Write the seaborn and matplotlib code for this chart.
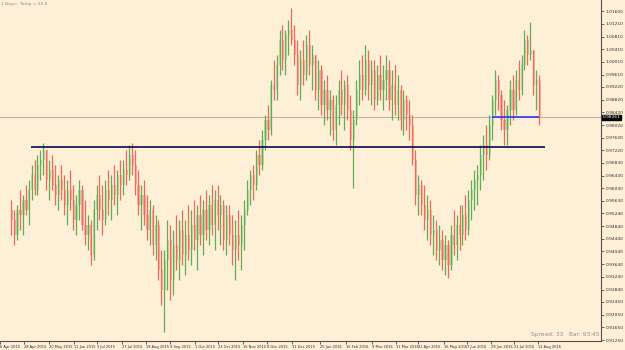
import numpy as np
import pandas as pd
import matplotlib
matplotlib.use("Agg")
import matplotlib.pyplot as plt
import matplotlib.transforms as mtransforms
import seaborn as sns

# ---------------- data (daily candles, prices) ----------------
first_open = 0.9535
closes = [
    0.9503, 0.9456, 0.9535, 0.9519, 0.9566, 0.9535, 0.9598, 0.9645, 0.9598, 0.9676,
    0.9692, 0.9724, 0.9629, 0.9661, 0.9613, 0.9582, 0.9629, 0.9598, 0.9550, 0.9598,
    0.9566, 0.9503, 0.9550, 0.9598, 0.9487, 0.9456, 0.9487, 0.9393, 0.9535, 0.9582,
    0.9535, 0.9503, 0.9598, 0.9566, 0.9613, 0.9582, 0.9645, 0.9613, 0.9661, 0.9645,
    0.9708, 0.9676, 0.9613, 0.9550, 0.9582, 0.9519, 0.9472, 0.9535, 0.9424, 0.9487,
    0.9346, 0.9283, 0.9377, 0.9440, 0.9314, 0.9424, 0.9377, 0.9472, 0.9393, 0.9456,
    0.9409, 0.9487, 0.9440, 0.9519, 0.9456, 0.9535, 0.9472, 0.9550, 0.9487, 0.9566,
    0.9519, 0.9550, 0.9440, 0.9519, 0.9456, 0.9409, 0.9456, 0.9424, 0.9487, 0.9535,
    0.9598, 0.9645, 0.9613, 0.9708, 0.9676, 0.9755, 0.9818, 0.9787, 0.9928, 0.9913,
    0.9991, 1.0070, 1.0007, 1.0086, 1.0102, 1.0070, 1.0023, 0.9928, 1.0007, 0.9960,
    1.0054, 0.9991, 1.0023, 0.9913, 0.9976, 0.9865, 0.9913, 0.9850, 0.9881, 0.9787,
    0.9865, 0.9913, 0.9865, 0.9928, 0.9850, 0.9755, 0.9818, 0.9913, 0.9960, 0.9913,
    1.0007, 0.9928, 0.9976, 0.9881, 0.9960, 0.9913, 0.9944, 0.9976, 0.9881, 0.9928,
    0.9865, 0.9913, 0.9818, 0.9881, 0.9834, 0.9802, 0.9692, 0.9582, 0.9613, 0.9550,
    0.9503, 0.9535, 0.9456, 0.9472, 0.9409, 0.9440, 0.9377, 0.9424, 0.9361, 0.9456,
    0.9424, 0.9487, 0.9456, 0.9519, 0.9472, 0.9566, 0.9598, 0.9629, 0.9645, 0.9708,
    0.9739, 0.9708, 0.9802, 0.9881, 0.9944, 0.9897, 0.9818, 0.9787, 0.9850, 0.9913,
    0.9850, 0.9944, 0.9913, 0.9991, 1.0070, 1.0023, 1.0039, 0.9928, 0.9944, 0.9827,
]
highs = [
    0.9566, 0.9535, 0.9550, 0.9598, 0.9582, 0.9613, 0.9629, 0.9676, 0.9692, 0.9708,
    0.9724, 0.9746, 0.9724, 0.9692, 0.9708, 0.9676, 0.9645, 0.9676, 0.9645, 0.9629,
    0.9661, 0.9613, 0.9582, 0.9629, 0.9613, 0.9566, 0.9519, 0.9503, 0.9566, 0.9613,
    0.9645, 0.9613, 0.9629, 0.9661, 0.9645, 0.9676, 0.9661, 0.9692, 0.9692, 0.9724,
    0.9739, 0.9746, 0.9724, 0.9661, 0.9613, 0.9629, 0.9582, 0.9566, 0.9550, 0.9519,
    0.9503, 0.9409, 0.9409, 0.9503, 0.9487, 0.9472, 0.9519, 0.9503, 0.9535, 0.9503,
    0.9550, 0.9535, 0.9566, 0.9550, 0.9582, 0.9566, 0.9598, 0.9582, 0.9613, 0.9598,
    0.9613, 0.9582, 0.9566, 0.9550, 0.9550, 0.9519, 0.9503, 0.9535, 0.9519, 0.9566,
    0.9629, 0.9661, 0.9676, 0.9724, 0.9755, 0.9787, 0.9834, 0.9865, 0.9944, 1.0007,
    1.0023, 1.0102, 1.0117, 1.0102, 1.0133, 1.0171, 1.0117, 1.0070, 1.0039, 1.0070,
    1.0086, 1.0102, 1.0054, 1.0023, 1.0007, 0.9991, 0.9944, 0.9960, 0.9913, 0.9897,
    0.9897, 0.9944, 0.9976, 0.9944, 0.9960, 0.9897, 0.9850, 0.9944, 1.0007, 1.0023,
    1.0054, 1.0039, 1.0007, 1.0007, 0.9991, 1.0023, 0.9991, 1.0023, 1.0007, 0.9976,
    0.9991, 0.9960, 0.9928, 0.9913, 0.9897, 0.9881, 0.9834, 0.9724, 0.9645, 0.9629,
    0.9613, 0.9582, 0.9566, 0.9519, 0.9503, 0.9487, 0.9472, 0.9456, 0.9440, 0.9487,
    0.9535, 0.9519, 0.9550, 0.9550, 0.9582, 0.9598, 0.9629, 0.9661, 0.9676, 0.9739,
    0.9771, 0.9802, 0.9834, 0.9897, 0.9976, 0.9960, 0.9913, 0.9881, 0.9865, 0.9944,
    0.9960, 0.9976, 1.0007, 1.0023, 1.0102, 1.0086, 1.0127, 1.0039, 0.9976, 0.9960,
]
lows = [
    0.9456, 0.9424, 0.9440, 0.9472, 0.9456, 0.9519, 0.9487, 0.9566, 0.9582, 0.9582,
    0.9629, 0.9645, 0.9598, 0.9566, 0.9598, 0.9550, 0.9535, 0.9566, 0.9519, 0.9487,
    0.9535, 0.9472, 0.9456, 0.9503, 0.9472, 0.9424, 0.9409, 0.9361, 0.9377, 0.9472,
    0.9503, 0.9456, 0.9487, 0.9519, 0.9503, 0.9550, 0.9519, 0.9566, 0.9582, 0.9613,
    0.9629, 0.9645, 0.9582, 0.9519, 0.9472, 0.9487, 0.9440, 0.9424, 0.9393, 0.9377,
    0.9314, 0.9235, 0.9150, 0.9283, 0.9251, 0.9267, 0.9346, 0.9314, 0.9361, 0.9330,
    0.9377, 0.9361, 0.9409, 0.9346, 0.9424, 0.9393, 0.9440, 0.9424, 0.9456, 0.9409,
    0.9472, 0.9424, 0.9409, 0.9393, 0.9424, 0.9361, 0.9314, 0.9377, 0.9346, 0.9409,
    0.9519, 0.9550, 0.9566, 0.9598, 0.9645, 0.9661, 0.9724, 0.9755, 0.9771, 0.9881,
    0.9881, 0.9960, 0.9976, 0.9960, 1.0023, 1.0054, 0.9991, 0.9897, 0.9881, 0.9928,
    0.9944, 0.9960, 0.9913, 0.9881, 0.9850, 0.9834, 0.9802, 0.9818, 0.9771, 0.9755,
    0.9739, 0.9802, 0.9834, 0.9787, 0.9818, 0.9724, 0.9604, 0.9802, 0.9865, 0.9881,
    0.9897, 0.9881, 0.9865, 0.9850, 0.9865, 0.9881, 0.9850, 0.9881, 0.9850, 0.9818,
    0.9834, 0.9818, 0.9787, 0.9771, 0.9787, 0.9755, 0.9676, 0.9550, 0.9519, 0.9519,
    0.9472, 0.9440, 0.9424, 0.9393, 0.9377, 0.9361, 0.9346, 0.9330, 0.9320, 0.9346,
    0.9393, 0.9377, 0.9409, 0.9424, 0.9440, 0.9456, 0.9503, 0.9535, 0.9550, 0.9598,
    0.9629, 0.9661, 0.9692, 0.9755, 0.9834, 0.9850, 0.9787, 0.9739, 0.9739, 0.9802,
    0.9818, 0.9834, 0.9881, 0.9897, 0.9976, 0.9991, 1.0007, 0.9897, 0.9850, 0.9802,
]

date_labels = ["6 Apr 2015", "28 Apr 2015", "20 May 2015", "11 Jun 2015", "3 Jul 2015",
               "27 Jul 2015", "18 Aug 2015", "9 Sep 2015", "1 Oct 2015", "23 Oct 2015",
               "16 Nov 2015", "8 Dec 2015", "31 Dec 2015", "25 Jan 2016", "16 Feb 2016",
               "9 Mar 2016", "31 Mar 2016", "22 Apr 2016", "16 May 2016", "7 Jun 2016",
               "29 Jun 2016", "21 Jul 2016", "12 Aug 2016"]
date_bar_index = [-3.8, 4.5, 12.8, 21.2, 29.2, 37.5, 45.5, 53.8, 62.2, 70.2, 78.5, 86.8,
                  95.2, 104.5, 113.5, 122.2, 130.5, 137.8, 146.8, 154.5, 162.5, 170.5, 178.5]

price_labels = ["0.91250", "0.91650", "0.92050", "0.92450", "0.92840", "0.93240", "0.93640",
                "0.94040", "0.94440", "0.94840", "0.95240", "0.95630", "0.96030", "0.96430",
                "0.96830", "0.97220", "0.97620", "0.98020", "0.98420", "0.98820", "0.99220",
                "0.99610", "1.00010", "1.00410", "1.00810", "1.01210", "1.01600"]

current_price = 0.98261
support_level = 0.9733
support_span = (6.8, 180.8)
blue_level = 0.9827
blue_span = (162.8, 178.8)

# ---------------- build table ----------------
opens = [first_open] + closes[:-1]
df = pd.DataFrame({"open": opens, "high": highs, "low": lows, "close": closes})
df["idx"] = np.arange(len(df))
df["up"] = df["close"] >= df["open"]

BG = "#FEEFD7"
sns.set_style("white", {"axes.facecolor": BG, "figure.facecolor": BG})
plt.rcParams["font.family"] = ["DejaVu Sans"]

fig = plt.figure(figsize=(6.25, 3.5), dpi=100)
ax = fig.add_axes([0, 9 / 350, 601 / 625, 341 / 350])
ax.set_facecolor(BG)

wick_up, wick_dn = "#5FAD56", "#F0695A"
body_up, body_dn = "#BBDCA2", "#F7B0A2"

# bodies
bot = df[["open", "close"]].min(axis=1)
hgt = (df["close"] - df["open"]).abs().clip(lower=0.0002)
ax.bar(df["idx"] + 0.15, hgt, bottom=bot, width=0.75,
       color=np.where(df["up"], body_up, body_dn), linewidth=0, zorder=2)
# wicks
ax.vlines(df["idx"] - 0.1, df["low"], df["high"],
          colors=np.where(df["up"], wick_up, wick_dn), linewidth=0.9, zorder=3)

# level lines
ax.axhline(current_price, color="#BDB5A6", linewidth=0.8, zorder=1)
ax.hlines(support_level, support_span[0], support_span[1], color="#0A0A50", linewidth=1.2, zorder=4)
ax.hlines(blue_level, blue_span[0], blue_span[1], color="#3535F5", linewidth=1.2, zorder=4)

ax.set_xlim(-0.5, 199.83)
ax.set_ylim(0.9122, 1.0196)

# axes styling
for s in ["left", "top"]:
    ax.spines[s].set_visible(False)
for s in ["right", "bottom"]:
    ax.spines[s].set_visible(True)
    ax.spines[s].set_color("#505050")
    ax.spines[s].set_linewidth(0.8)

ax.yaxis.tick_right()
ax.set_yticks([float(v) for v in price_labels])
ax.set_yticklabels(price_labels)
ax.tick_params(axis="y", which="both", right=True, left=False, length=2, width=0.5,
               pad=1.5, labelsize=3.2, colors="#303030")

ax.set_xticks(date_bar_index)
ax.set_xticklabels(date_labels, ha="left")
ax.tick_params(axis="x", which="both", bottom=True, length=2, width=0.5,
               pad=1, labelsize=2.6, colors="#303030")

# current price marker on the right scale
trans = mtransforms.blended_transform_factory(ax.transAxes, ax.transData)
ax.text(1.003, current_price, f"{current_price:.5f}", transform=trans, fontsize=3.2,
        color="white", va="center", ha="left",
        bbox=dict(boxstyle="square,pad=0.15", facecolor="black", edgecolor="black"),
        zorder=10, clip_on=False)

# header and footer texts
ax.text(0.002, 0.993, "1 Bays:  Temp = 00.0", transform=ax.transAxes, fontsize=3.2,
        color="#8A8A8A", va="top", ha="left")
ax.text(0.998, 0.012, "Spread: 33   Bar: 93:45", transform=ax.transAxes, fontsize=4.2,
        color="#909090", va="bottom", ha="right")

fig.savefig("out.png", dpi=100, facecolor=BG)
